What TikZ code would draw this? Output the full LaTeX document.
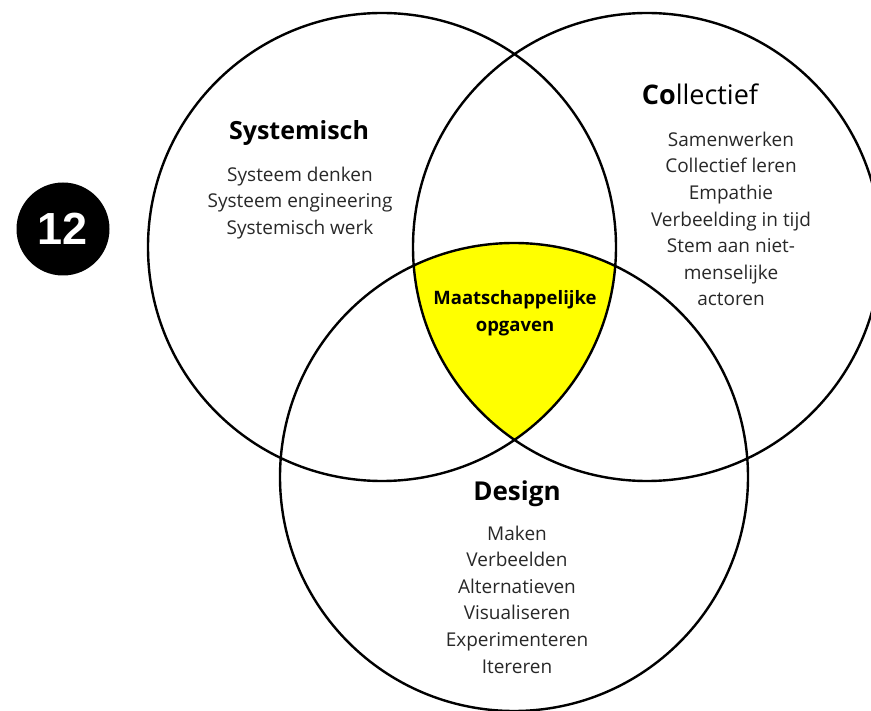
\documentclass[tikz,border=0pt]{standalone}
\usepackage{fontspec}
\setmainfont{Open Sans}
\newfontfamily\numfont{Liberation Sans}
\definecolor{vennyellow}{RGB}{255,255,0}
\definecolor{bodygray}{RGB}{40,40,40}
\begin{document}
\begin{tikzpicture}[x=1pt,y=-1pt,
  ring/.style={draw=black,line width=2.4pt},
  title/.style={font={\fontsize{25}{30}\selectfont\bfseries},text=black,inner sep=0pt},
  items/.style={font={\fontsize{19}{26.6}\selectfont},text=bodygray,align=center,inner sep=0pt},
  core/.style={font={\fontsize{18.5}{27}\selectfont\bfseries},text=black,align=center,inner sep=0pt}]
\useasboundingbox (0,0) rectangle (871,711);
\coordinate (cS) at (382,247);
\coordinate (cC) at (647,247);
\coordinate (cD) at (514,477);
\def\R{234}
\begin{scope}
  \clip (cS) circle (\R);
  \clip (cC) circle (\R);
  \fill[vennyellow] (cD) circle (\R);
\end{scope}
\draw[ring] (cS) circle (\R);
\draw[ring] (cC) circle (\R);
\draw[ring] (cD) circle (\R);
% number badge
\fill[black] (63,229) circle (46.5);
\node[text=white,font={\numfont\fontsize{45}{50}\selectfont\bfseries},inner sep=0pt] (num) at (63,229) {12};
% titles
\node[title] (tS) at (299,133) {Systemisch};
\node[title,font={\fontsize{27}{30}\selectfont}] (tC) at (700,94) {\textbf{Co}llectief};
\node[title,font={\fontsize{26}{30}\selectfont\bfseries}] (tD) at (517,494) {Design};
% items
\node[items] (iS) at (300,203) {Systeem denken\\Systeem engineering\\Systemisch werk};
\node[items] (iC) at (731,219) {Samenwerken\\Collectief leren\\Empathie\\Verbeelding in tijd\\Stem aan niet-\\menselijke\\actoren};
\node[items] (iD) at (517,599.5) {Maken\\Verbeelden\\Alternatieven\\Visualiseren\\Experimenteren\\Itereren};
\node[core] (core) at (515,313) {Maatschappelijke\\opgaven};
\end{tikzpicture}
\end{document}
